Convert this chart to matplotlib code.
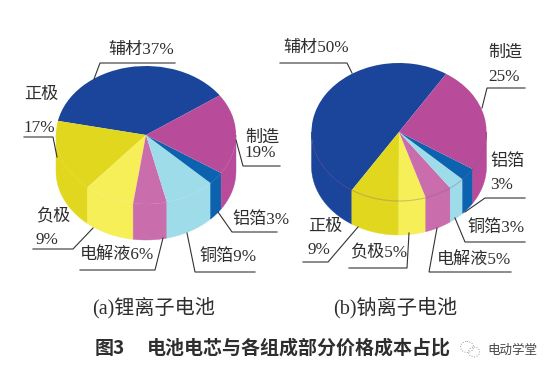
import numpy as np
import matplotlib
matplotlib.use('Agg')
import matplotlib.pyplot as plt
from matplotlib.patches import Ellipse

parts_a = ['辅材', '正极', '负极', '电解液', '铜箔', '铝箔', '制造']
shares_a = [37, 17, 9, 6, 9, 3, 19]
parts_b = ['辅材', '正极', '负极', '电解液', '铜箔', '铝箔', '制造']
shares_b = [50, 9, 5, 5, 3, 3, 25]
colors = ['#1B459B', '#E1D71F', '#F6EF57', '#C96DAC', '#9FDCE9', '#0D62AF', '#B84C9A']

W, H = 554, 373
FONT = ['Liberation Serif', 'Noto Sans CJK SC']
INK = '#2e2e2e'


def draw_pie(fig, shares, cx, cy, a, b, depth, start, rim=False):
    ax = fig.add_axes([(cx - a) / W, 1 - (cy + b + depth) / H, 2 * a / W, (2 * b + depth) / H])
    low = -1 - depth / b
    edges = start + np.cumsum([0] + shares) * 3.6
    # side walls first, the top goes over them
    for i, col in enumerate(colors):
        for turn in [0, 360]:
            t0 = max(edges[i], 180 + turn)
            t1 = min(edges[i + 1], 360 + turn)
            if t1 <= t0:
                continue
            t = np.radians(np.linspace(t0, t1, 60))
            xs = np.cos(t)
            ys = np.sin(t)
            ax.fill(np.r_[xs, xs[::-1]], np.r_[ys, ys[::-1] - depth / b], color=col, lw=0.3, clip_on=False)
    ax.pie(shares, colors=colors, startangle=start, counterclock=True,
           wedgeprops={'clip_on': False, 'linewidth': 0})
    ax.set_aspect('auto')
    ax.set_xlim(-1, 1)
    ax.set_ylim(low, 1)
    if rim:
        t = np.radians(np.linspace(180, 360, 200))
        ax.plot(np.cos(t), np.sin(t), color='#5a2a70', alpha=0.25, lw=0.8, clip_on=False)
    ax.axis('off')
    return ax


fig = plt.figure(figsize=(W / 100, H / 100), dpi=100, facecolor='white')
draw_pie(fig, shares_a, 146, 135, 90, 69, 36, 35)
draw_pie(fig, shares_b, 399, 132, 87.5, 69, 34, 57.4, rim=True)

over = fig.add_axes([0, 0, 1, 1], zorder=5)
over.set_xlim(0, W)
over.set_ylim(H, 0)
over.axis('off')
over.patch.set_alpha(0)


def label(text, x, y, size=12.3):
    over.text(x, y, text, family=FONT, fontsize=size, color=INK, ha='left', va='center')


def leader(*pts):
    xs, ys = zip(*pts)
    over.plot(xs, ys, color='#333333', lw=0.8, solid_joinstyle='miter')


# left pie
label(f'{parts_a[0]}{shares_a[0]}%', 108, 50)
leader((175, 63), (100, 63), (94, 79))
label(parts_a[1], 24, 95)
label(f'{shares_a[1]}%', 24, 128)
leader((24, 137), (53, 137), (57, 157))
label(parts_a[6], 245, 138)
label(f'{shares_a[6]}%', 245, 153)
leader((236, 140), (243, 166), (280, 166))
label(f'{parts_a[5]}{shares_a[5]}%', 232, 220)
leader((218, 212), (232, 232), (277, 232))
label(f'{parts_a[4]}{shares_a[4]}%', 199, 257)
leader((187, 233), (195, 272), (255, 272))
label(f'{parts_a[3]}{shares_a[3]}%', 80, 255)
leader((163, 238), (155, 270), (80, 270))
label(parts_a[2], 36, 217)
label(f'{shares_a[2]}%', 36, 240)
leader((93, 228), (73, 249), (33, 249))

# right pie
label(f'{parts_b[0]}{shares_b[0]}%', 283, 48)
leader((280, 63), (347, 63), (352, 73))
label(parts_b[6], 488, 53)
label(f'{shares_b[6]}%', 488, 77)
leader((525, 88), (487, 88), (482, 108))
label(parts_b[5], 490, 162)
label(f'{shares_b[5]}%', 490, 185)
leader((525, 198), (485, 198), (465, 212))
label(f'{parts_b[4]}{shares_b[4]}%', 467, 228)
leader((455, 218), (465, 242), (525, 242))
label(f'{parts_b[3]}{shares_b[3]}%', 437, 260)
leader((437, 228), (429, 272), (511, 272))
label(f'{parts_b[2]}{shares_b[2]}%', 350, 253)
leader((409, 233), (407, 268), (349, 268))
label(parts_b[1], 308, 227)
label(f'{shares_b[1]}%', 308, 250)
leader((358, 227), (328, 262), (303, 262))

# captions
label('(a)锂离子电池', 92, 308, 14.5)
label('(b)钠离子电池', 333, 308, 14.5)
over.text(95, 348, '图3', family=['Noto Sans CJK SC'], fontsize=13.7, fontweight='bold', color=INK, va='center')
over.text(147, 348, '电池电芯与各组成部分价格成本占比', family=['Noto Sans CJK SC'], fontsize=13.7,
          fontweight='bold', color=INK, va='center')

# watermark
over.add_patch(Ellipse((467, 347), 13, 11, fill=False, ec='#9a9a9a', lw=0.7, ls=':'))
over.add_patch(Ellipse((474, 352), 11, 10, fill=False, ec='#9a9a9a', lw=0.7, ls=':', fc='white'))
over.text(487, 350, '电动学堂', family=['Noto Sans CJK SC'], fontsize=9, color='#444444', va='center')

fig.savefig('out.png', dpi=100, facecolor='white')
